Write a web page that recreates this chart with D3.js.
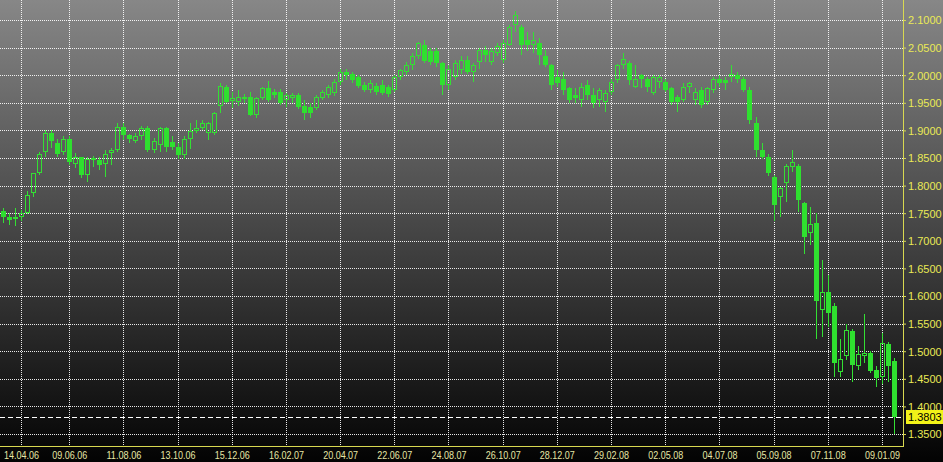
<!DOCTYPE html>
<html><head><meta charset="utf-8">
<script src="https://cdn.jsdelivr.net/npm/d3@7"></script>
<style>html,body{margin:0;padding:0;background:#000;overflow:hidden}svg{display:block}</style>
</head><body>
<svg id="chart" width="943" height="462"></svg>
<script>
// Weekly GBP/USD candles, first week ending 24.03.06
const firstWeek = "24.03.06";
const open = [1.7545,1.744,1.739,1.744,1.751,1.786,1.823,1.861,1.896,1.878,
1.860,1.885,1.840,1.851,1.819,1.846,1.847,1.839,1.859,1.865,
1.907,1.891,1.881,1.889,1.905,1.864,1.874,1.904,1.879,1.870,
1.855,1.884,1.898,1.904,1.896,1.895,1.945,1.978,1.953,1.952,
1.960,1.961,1.928,1.958,1.976,1.970,1.970,1.955,1.958,1.964,
1.944,1.943,1.940,1.958,1.964,1.967,1.988,2.006,2.003,1.996,
1.982,1.973,1.980,1.982,1.978,1.973,1.996,2.006,2.018,2.034,
2.055,2.043,2.043,2.022,1.982,1.997,2.009,2.028,2.006,2.024,
2.046,2.024,2.040,2.028,2.055,2.091,2.088,2.064,2.055,2.058,
2.034,2.018,1.997,1.994,1.976,1.964,1.955,1.982,1.964,1.955,
1.952,1.970,1.991,2.018,2.022,1.979,2.000,1.994,1.967,1.988,
1.988,1.976,1.961,1.955,1.979,1.955,1.973,1.952,1.973,1.994,
1.991,1.997,2.000,1.994,1.973,1.913,1.865,1.852,1.816,1.780,
1.805,1.833,1.835,1.769,1.715,1.733,1.575,1.608,1.582,1.463,
1.491,1.537,1.473,1.491,1.496,1.466,1.454,1.513,1.482];
const high = [1.759,1.751,1.759,1.756,1.790,1.823,1.860,1.900,1.901,1.884,
1.890,1.889,1.859,1.852,1.852,1.854,1.852,1.865,1.869,1.913,
1.913,1.894,1.895,1.908,1.908,1.886,1.906,1.907,1.889,1.877,
1.889,1.914,1.919,1.918,1.916,1.934,1.985,1.982,1.970,1.973,
1.966,1.970,1.960,1.979,1.990,1.975,1.975,1.967,1.968,1.968,
1.955,1.949,1.964,1.973,1.982,1.994,2.012,2.012,2.006,2.000,
1.988,1.991,1.985,1.991,1.982,2.000,2.012,2.024,2.040,2.061,
2.064,2.049,2.049,2.024,2.018,2.028,2.034,2.034,2.022,2.049,
2.052,2.049,2.058,2.064,2.091,2.116,2.091,2.079,2.079,2.067,
2.046,2.021,2.009,2.006,1.979,1.976,1.985,1.991,1.976,1.976,
1.973,1.994,2.021,2.040,2.025,2.018,2.003,1.997,2.000,2.000,
1.994,1.979,1.964,1.985,1.988,1.976,1.979,1.979,1.997,2.000,
1.997,2.018,2.006,1.997,1.979,1.925,1.877,1.857,1.819,1.798,
1.840,1.865,1.840,1.771,1.762,1.750,1.665,1.638,1.587,1.523,
1.550,1.541,1.509,1.568,1.500,1.473,1.533,1.517,1.487];
const low = [1.732,1.729,1.726,1.736,1.749,1.780,1.819,1.852,1.869,1.852,
1.855,1.837,1.831,1.813,1.807,1.834,1.828,1.816,1.837,1.861,
1.883,1.878,1.877,1.883,1.860,1.859,1.861,1.861,1.865,1.849,
1.849,1.867,1.895,1.901,1.883,1.892,1.931,1.949,1.940,1.945,
1.950,1.926,1.922,1.955,1.952,1.958,1.946,1.943,1.950,1.938,
1.919,1.922,1.937,1.955,1.958,1.963,1.982,1.991,1.985,1.976,
1.970,1.967,1.964,1.964,1.961,1.970,1.991,2.000,2.009,2.029,
2.022,2.018,2.015,1.964,1.973,1.991,2.003,2.003,1.988,2.012,
2.024,2.018,2.034,2.022,2.052,2.079,2.037,2.043,2.040,2.018,
2.015,1.973,1.979,1.964,1.949,1.949,1.943,1.955,1.940,1.943,
1.934,1.964,1.985,2.012,1.982,1.976,1.976,1.970,1.964,1.976,
1.970,1.946,1.934,1.952,1.967,1.946,1.940,1.946,1.967,1.979,
1.973,1.988,1.985,1.970,1.911,1.852,1.849,1.818,1.735,1.744,
1.771,1.825,1.753,1.677,1.692,1.523,1.526,1.544,1.454,1.454,
1.484,1.445,1.466,1.478,1.460,1.435,1.441,1.445,1.350];
const close = [1.744,1.738,1.744,1.750,1.783,1.822,1.858,1.896,1.880,1.857,
1.884,1.843,1.852,1.819,1.849,1.850,1.837,1.857,1.864,1.907,
1.892,1.884,1.889,1.905,1.865,1.881,1.904,1.870,1.870,1.855,
1.884,1.898,1.905,1.913,1.913,1.931,1.980,1.952,1.958,1.961,
1.956,1.928,1.958,1.976,1.955,1.964,1.949,1.964,1.964,1.942,
1.931,1.931,1.961,1.970,1.978,1.988,2.006,2.000,1.991,1.980,
1.973,1.985,1.970,1.968,1.966,1.997,2.009,2.018,2.035,2.058,
2.026,2.024,2.022,1.982,2.012,2.022,2.028,2.006,2.018,2.046,
2.037,2.043,2.052,2.058,2.088,2.109,2.055,2.055,2.064,2.037,
2.018,1.982,1.985,1.973,1.955,1.958,1.979,1.964,1.949,1.973,
1.967,1.988,2.018,2.030,1.991,1.994,1.994,1.979,1.997,1.997,
1.973,1.952,1.952,1.979,1.985,1.970,1.946,1.976,1.994,1.985,
1.985,2.003,1.994,1.973,1.918,1.865,1.852,1.823,1.765,1.795,
1.835,1.843,1.774,1.706,1.730,1.591,1.608,1.569,1.479,1.485,
1.539,1.475,1.495,1.496,1.465,1.451,1.515,1.473,1.3803];
const dateLabels = ["14.04.06","09.06.06","11.08.06","13.10.06","15.12.06","16.02.07",
"20.04.07","22.06.07","24.08.07","26.10.07","28.12.07","29.02.08","02.05.08",
"04.07.08","05.09.08","07.11.08","09.01.09"];
const priceTicks = [1.35,1.40,1.45,1.50,1.55,1.60,1.65,1.70,1.75,1.80,1.85,1.90,1.95,2.00,2.05,2.10];
const lastPrice = 1.3803;

const W = 943, H = 462, plotR = 903, plotB = 446;
const svg = d3.select("#chart");
const parse = d3.timeParse("%d.%m.%y");
const d0 = parse(firstWeek);
const dates = open.map((_, i) => d3.timeDay.offset(d0, 7 * i));
const data = dates.map((d, i) => ({d, o: open[i], h: high[i], l: low[i], c: close[i]}));

const x = d3.scaleTime()
  .domain([d3.timeHour.offset(d0, -84), d3.timeHour.offset(d0, -84 + 150 * 168)])
  .range([0, plotR]);
const y = d3.scaleLinear().domain([1.3283, 2.1362]).range([plotB, 0]);

// background gradient
const defs = svg.append("defs");
const g = defs.append("linearGradient").attr("id", "bg").attr("x1", 0).attr("y1", 0).attr("x2", 0).attr("y2", 1);
g.append("stop").attr("offset", "0%").attr("stop-color", "#878787");
g.append("stop").attr("offset", "100%").attr("stop-color", "#030303");
svg.append("rect").attr("width", W).attr("height", H).attr("fill", "url(#bg)");

const tickDates = dateLabels.map(parse);

// grid
const grid = svg.append("g").attr("shape-rendering", "crispEdges");
grid.selectAll(".hg").data(priceTicks).join("line")
  .attr("x1", 0).attr("x2", plotR)
  .attr("y1", d => Math.round(y(d)) + 0.5).attr("y2", d => Math.round(y(d)) + 0.5)
  .attr("stroke", "#ffffff").attr("stroke-dasharray", "1,1").attr("stroke-opacity", 0.9);
grid.selectAll(".vg").data(tickDates).join("line")
  .attr("y1", 0).attr("y2", plotB)
  .attr("x1", d => Math.round(x(d)) + 0.5).attr("x2", d => Math.round(x(d)) + 0.5)
  .attr("stroke", "#ffffff").attr("stroke-dasharray", "1,1").attr("stroke-opacity", 0.9);

// last price dashed line
svg.append("line").attr("x1", 0).attr("x2", plotR)
  .attr("y1", Math.round(y(lastPrice)) + 0.5).attr("y2", Math.round(y(lastPrice)) + 0.5)
  .attr("stroke", "#ffffff").attr("stroke-dasharray", "5,3").attr("shape-rendering", "crispEdges");

// candles
const green = "#33e033";
const cg = svg.append("g").attr("shape-rendering", "crispEdges");
const cx = d => Math.round(x(d.d));
const cs = cg.selectAll("g.c").data(data).join("g");
cs.append("line")
  .attr("x1", d => cx(d) + 0.5).attr("x2", d => cx(d) + 0.5)
  .attr("y1", d => y(d.h)).attr("y2", d => y(Math.max(d.o, d.c)))
  .attr("stroke", green);
cs.append("line")
  .attr("x1", d => cx(d) + 0.5).attr("x2", d => cx(d) + 0.5)
  .attr("y1", d => y(Math.min(d.o, d.c))).attr("y2", d => y(d.l))
  .attr("stroke", green);
cs.append("rect")
  .attr("x", d => d.c >= d.o ? cx(d) - 1.5 : cx(d) - 2)
  .attr("width", d => d.c >= d.o ? 4 : 5)
  .attr("y", d => y(Math.max(d.o, d.c)) + (d.c >= d.o ? 0.5 : 0))
  .attr("height", d => Math.max(1, Math.abs(y(d.o) - y(d.c)) - (d.c >= d.o ? 1 : 0)))
  .attr("fill", d => d.c >= d.o ? "none" : "#2fe02f")
  .attr("stroke", d => d.c >= d.o ? green : "none")
  .attr("stroke-width", 1);

// axes lines
const axisCol = "#d8d850";
svg.append("line").attr("x1", plotR + 0.5).attr("x2", plotR + 0.5).attr("y1", 0).attr("y2", plotB + 1)
  .attr("stroke", axisCol).attr("shape-rendering", "crispEdges");
svg.append("line").attr("x1", 0).attr("x2", plotR + 1).attr("y1", plotB + 0.5).attr("y2", plotB + 0.5)
  .attr("stroke", axisCol).attr("shape-rendering", "crispEdges");

// y axis
const yAxis = d3.axisRight(y).tickValues(priceTicks).tickFormat(d3.format(".4f")).tickSize(3).tickPadding(2);
const ya = svg.append("g").attr("transform", `translate(${plotR},0)`).call(yAxis);
ya.select(".domain").remove();
ya.selectAll("line").attr("stroke", axisCol);
ya.selectAll("text").attr("fill", "#eaea55").attr("font-family", "Liberation Sans, Arial, sans-serif")
  .attr("font-size", "11px").attr("dy", "0.35em");

// x axis
const xAxis = d3.axisBottom(x).tickValues(tickDates).tickFormat(d3.timeFormat("%d.%m.%y")).tickSize(0).tickPadding(5);
const xa = svg.append("g").attr("transform", `translate(0,${plotB})`).call(xAxis);
xa.select(".domain").remove();
xa.selectAll("text").attr("fill", "#e6e6a6")
  .attr("font-family", "Liberation Sans, Arial, sans-serif")
  .attr("font-size", "11px").attr("dy", "0.71em")
  .attr("textLength", 35).attr("lengthAdjust", "spacingAndGlyphs");

// last price label
const ly = Math.round(y(lastPrice));
svg.append("rect").attr("x", plotR + 3).attr("y", ly - 7).attr("width", 37).attr("height", 14)
  .attr("fill", "#f2f218");
svg.append("text").attr("x", plotR + 5).attr("y", ly).attr("dy", "0.36em")
  .attr("font-family", "Liberation Sans, Arial, sans-serif").attr("font-size", "11px")
  .attr("fill", "#000").text(d3.format(".4f")(lastPrice));
</script>
</body></html>
